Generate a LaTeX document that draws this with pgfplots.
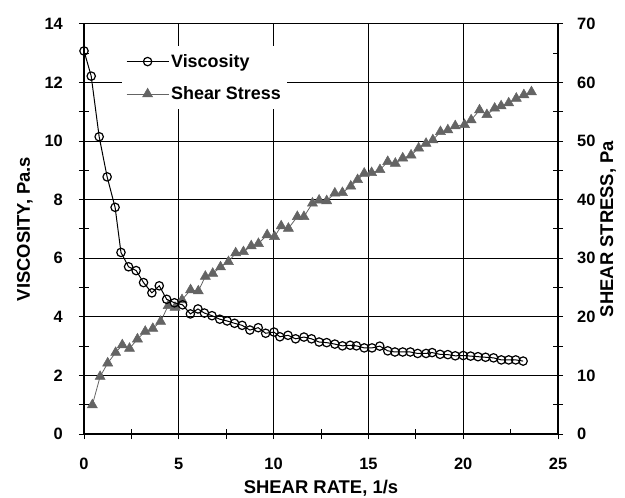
\documentclass[border=0pt]{standalone}
\usepackage{fontspec}
\setmainfont{Liberation Sans}
\usepackage{pgfplots}
\pgfplotsset{compat=1.18}
\definecolor{stressgray}{RGB}{100,100,100}
\begin{document}
\begin{tikzpicture}
\pgfplotsset{
  common/.style={
    scale only axis, width=474bp, height=410bp,
    xmin=0, xmax=25,
    /pgf/number format/assume math mode=true,
    tick label style={font=\fontsize{16.5}{18}\selectfont\bfseries},
    label style={font=\fontsize{18.5}{20}\selectfont\bfseries},
    tick align=center, major tick length=10bp, minor tick length=10bp,
    minor tick style={shorten <=5bp},
    every tick/.style={black, line width=1bp},
    axis line style={black, line width=1.1bp},
  },
  stressstyle/.style={stressgray, line width=0.8bp, mark=triangle*, mark size=5.8bp, mark options={fill=stressgray, draw=stressgray, line width=0.5bp}},
  viscstyle/.style={black, line width=1bp, mark=o, mark size=4.2bp, mark options={line width=1.2bp}},
}
% ---- Shear stress (right axis), grid, x axis
\begin{axis}[common,
  ymin=0, ymax=70,
  xtick={0,5,...,25}, minor xtick={2.5,7.5,...,22.5},
  ytick={0,10,...,70}, minor ytick={5,15,...,65},
  axis y line*=right, axis x line*=bottom,
  grid=major, major grid style={black, line width=1bp},
  xlabel={SHEAR RATE, 1/s},
  ylabel={SHEAR STRESS, Pa},
  x label style={at={(axis description cs:0.5,-0.1450)}, anchor=base},
  y label style={at={(axis description cs:1.1055,0.5)}, anchor=center},
  xticklabel style={anchor=base, inner sep=0pt, yshift=-30bp},
  yticklabel style={anchor=west, inner sep=0pt, xshift=14bp},
]
\addplot[stressstyle] coordinates {
(0.44,4.95) (0.85,9.8) (1.25,12.1) (1.67,13.9) (2.02,15.2) (2.40,14.6)
(2.82,16.2) (3.23,17.5) (3.63,18.0) (4.04,19.2) (4.44,21.9) (4.80,21.6)
(5.17,22.9) (5.62,24.6) (6.03,24.4) (6.40,26.9) (6.79,27.4) (7.20,28.5)
(7.62,29.4) (8.00,30.9) (8.41,31.1) (8.82,32.1) (9.20,32.5) (9.66,34.0)
(10.05,33.7) (10.40,35.5) (10.78,35.1) (11.25,37.1) (11.60,37.1) (12.05,39.4)
(12.40,39.9) (12.80,39.8) (13.23,41.1) (13.63,41.2) (14.07,42.3) (14.43,43.4)
(14.78,44.5) (15.17,44.6) (15.61,45.1) (16.02,46.5) (16.42,46.2) (16.81,47.1)
(17.25,47.6) (17.65,48.8) (18.04,49.6) (18.40,50.2) (18.80,51.6) (19.19,51.9)
(19.58,52.6) (20.07,52.8) (20.42,53.6) (20.86,55.3) (21.25,54.5) (21.66,55.6)
(22.00,56.0) (22.40,56.5) (22.80,57.3) (23.20,57.9) (23.60,58.4)
};
\end{axis}
% ---- Viscosity (left axis)
\begin{axis}[common,
  ymin=0, ymax=14,
  ytick={0,2,...,14}, minor ytick={1,3,...,13},
  axis y line*=left, axis x line=none,
  ylabel={VISCOSITY, Pa.s},
  y label style={at={(axis description cs:-0.1245,0.5)}, anchor=center},
  yticklabel style={anchor=east, inner sep=0pt, xshift=-16bp},
  legend style={at={(axis description cs:0.080,0.946)}, anchor=north west,
    fill=white, draw=none, font=\fontsize{18}{20}\selectfont\bfseries,
    row sep=14bp, inner xsep=4bp, inner ysep=6bp},
  legend cell align=left,
  legend image code/.code={\draw[#1, mark repeat=2, mark phase=2] plot coordinates {(0bp,0bp) (21bp,0bp) (42bp,0bp)};},
]
\addplot[viscstyle] coordinates {
(0,13.08) (0.38,12.22) (0.80,10.15) (1.22,8.78) (1.64,7.74) (1.95,6.20)
(2.35,5.71) (2.75,5.58) (3.14,5.17) (3.58,4.82) (3.97,5.06) (4.36,4.60)
(4.77,4.48) (5.20,4.41) (5.61,4.10) (6.01,4.27) (6.35,4.13) (6.75,4.04)
(7.16,3.92) (7.55,3.86) (7.94,3.78) (8.34,3.71) (8.75,3.55) (9.19,3.63)
(9.58,3.44) (10.02,3.48) (10.33,3.32) (10.76,3.37) (11.16,3.25) (11.60,3.31)
(12.00,3.25) (12.40,3.14) (12.80,3.12) (13.23,3.07) (13.63,3.01) (14.04,3.03)
(14.37,3.01) (14.78,2.94) (15.19,2.94) (15.60,3.00) (16.02,2.84) (16.40,2.80)
(16.81,2.80) (17.21,2.80) (17.60,2.75) (18.04,2.75) (18.36,2.78) (18.78,2.72)
(19.19,2.71) (19.58,2.67) (20.00,2.68) (20.39,2.66) (20.78,2.64) (21.18,2.62)
(21.60,2.60) (22.01,2.53) (22.40,2.53) (22.77,2.53) (23.16,2.49)
};
\addlegendentry{Viscosity}
\addlegendimage{stressstyle}
\addlegendentry{Shear Stress}
\end{axis}
\pgfresetboundingbox
\useasboundingbox (-84bp,-64bp) rectangle (541bp,434bp);
\end{tikzpicture}
\end{document}
